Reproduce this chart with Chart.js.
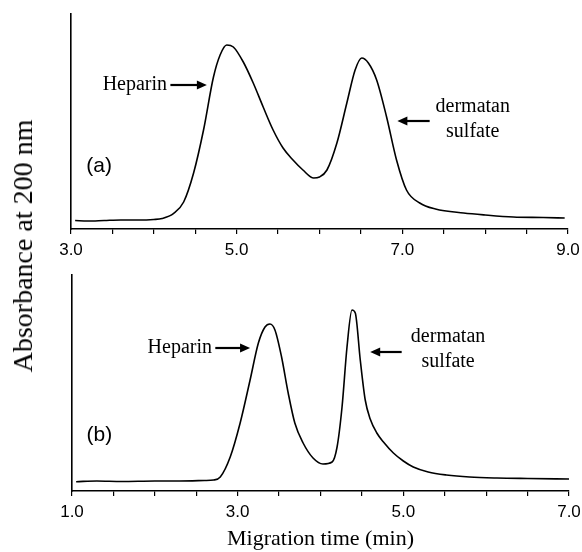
<!DOCTYPE html>
<html>
<head>
<meta charset="utf-8">
<script src="https://cdn.jsdelivr.net/npm/chart.js@4/dist/chart.umd.min.js"></script>
<style>
  html, body { margin: 0; padding: 0; background: #fff; }
  #wrap { position: relative; width: 582px; height: 552px; background: #fff; overflow: hidden; }
  #cA { position: absolute; left: 0; top: 0; }
  #cB { position: absolute; left: 0; top: 262px; }
  #ylab { position: absolute; left: 23px; top: 246px; transform: translate(-50%, -50%) rotate(-90deg);
          font-family: "Liberation Serif", "Times New Roman", serif; font-size: 28px; color: #000; white-space: nowrap; }
</style>
</head>
<body>
<div id="wrap">
  <canvas id="cA" width="582" height="262"></canvas>
  <canvas id="cB" width="582" height="290"></canvas>
  <div id="ylab">Absorbance at 200 nm</div>
</div>
<script>
// ---- Panel (a) data: migration time (min) vs absorbance (arb. units) ----
const timeA = [3.05,3.2,3.4,3.6,3.8,4.0,4.1,4.24,4.36,4.48,4.6,4.72,4.8,4.88,4.96,5.08,5.2,5.32,5.44,5.56,5.68,5.8,5.93,6.0,6.09,6.21,6.33,6.43,6.51,6.59,6.69,6.81,6.93,7.05,7.21,7.4,7.74,8.0,8.34,8.7,8.96];
const absA  = [8.5,8,8.5,9,9,9.5,10.5,15.7,27,56,99,152,174,184,182,167,146,122,99,81,69,59,51,52,59,86,126,159,171,166,149,112,69,39,26,20,16,14,12,11.5,11];
const tickLabelsA = ['3.0','5.0','7.0','9.0'];

// ---- Panel (b) data ----
const timeB = [1.05,1.3,1.6,2.0,2.3,2.6,2.71,2.79,2.91,3.03,3.15,3.25,3.33,3.39,3.45,3.53,3.61,3.69,3.79,3.91,4.03,4.14,4.2,4.26,4.32,4.38,4.42,4.48,4.54,4.6,4.68,4.76,4.88,5.0,5.12,5.3,5.52,5.8,6.13,6.5,7.01];
const absB  = [9.3,10,9.5,10,10,10.5,11,14,34,68,111,148,164,167,161,134,98,68,48,33,27,29,44,84,144,181,178,131,91,72,58,49,38,30,24,19,16,14,13,12.5,12];
const tickLabelsB = ['1.0','3.0','5.0','7.0'];

// ---- Annotation texts ----
const panelLabels = ['(a)', '(b)'];
const peakNames = ['Heparin', 'dermatan', 'sulfate'];
const xTitle = 'Migration time (min)';

function pts(xs, ys) { return xs.map((x, i) => ({ x: x, y: ys[i] })); }

function arrow(ctx, x1, x2, y) {
  const dir = x2 > x1 ? 1 : -1;
  ctx.beginPath();
  ctx.lineWidth = 2.2;
  ctx.moveTo(x1, y);
  ctx.lineTo(x2 - dir * 8, y);
  ctx.stroke();
  ctx.beginPath();
  ctx.moveTo(x2, y);
  ctx.lineTo(x2 - dir * 10, y - 4.5);
  ctx.lineTo(x2 - dir * 10, y + 4.5);
  ctx.closePath();
  ctx.fill();
}

function annotPlugin(cfg) {
  return {
    id: 'annot',
    afterDatasetsDraw(chart) {
      const ctx = chart.ctx, xs = chart.scales.x, ys = chart.scales.y;
      const X = v => xs.getPixelForValue(v), Y = v => ys.getPixelForValue(v);
      ctx.save();
      ctx.fillStyle = '#000'; ctx.strokeStyle = '#000';
      ctx.textBaseline = 'middle';
      // panel label
      ctx.font = '21px "Liberation Sans", Arial, sans-serif';
      ctx.textAlign = 'center';
      ctx.fillText(cfg.panel, X(cfg.panelPos[0]), Y(cfg.panelPos[1]));
      // Heparin
      ctx.font = '20px "Liberation Serif", "Times New Roman", serif';
      ctx.textAlign = 'right';
      ctx.fillText(peakNames[0], X(cfg.hep[0]), Y(cfg.hep[1]));
      arrow(ctx, X(cfg.hepArrow[0]), X(cfg.hepArrow[1]), Y(cfg.hepArrow[2]));
      // dermatan sulfate
      ctx.textAlign = 'center';
      ctx.fillText(peakNames[1], X(cfg.der[0]), Y(cfg.der[1]));
      ctx.fillText(peakNames[2], X(cfg.der[0]), Y(cfg.der[2]));
      arrow(ctx, X(cfg.derArrow[0]), X(cfg.derArrow[1]), Y(cfg.derArrow[2]));
      ctx.restore();
    }
  };
}

function makeChart(id, xs, ys, xmin, xmax, ymax, labels, pad, xHeight, withTitle, annot) {
  return new Chart(document.getElementById(id), {
    type: 'line',
    data: { datasets: [{ data: pts(xs, ys), borderColor: '#000', borderWidth: 1.6,
                         pointRadius: 0, fill: false, cubicInterpolationMode: 'monotone' }] },
    options: {
      responsive: false, animation: false,
      layout: { padding: pad },
      plugins: { legend: { display: false }, tooltip: { enabled: false } },
      scales: {
        x: {
          type: 'linear', min: xmin, max: xmax,
          afterFit: s => { s.height = xHeight; s.paddingLeft = 0; s.paddingRight = 0; },
          border: { display: true, color: '#000', width: 1.6 },
          grid: { display: true, drawOnChartArea: false, drawTicks: true, tickLength: 5, color: '#000', lineWidth: 1.2 },
          ticks: {
            stepSize: 0.5, autoSkip: false, maxRotation: 0, padding: 6,
            color: '#000', font: { family: '"Liberation Sans", Arial, sans-serif', size: 17 },
            callback: v => { const l = labels.find(t => Math.abs(parseFloat(t) - v) < 1e-6); return l ? l : ''; }
          },
          title: withTitle ? { display: true, text: xTitle, color: '#000', padding: { top: 0, bottom: 0 },
                               font: { family: '"Liberation Serif", "Times New Roman", serif', size: 22 } } : { display: false }
        },
        y: {
          type: 'linear', min: 0, max: ymax,
          afterFit: s => { s.width = 0; s.paddingTop = 0; s.paddingBottom = 0; },
          border: { display: true, color: '#000', width: 1.6 },
          grid: { display: false },
          ticks: { display: false }
        }
      }
    },
    plugins: [annotPlugin(annot)]
  });
}

makeChart('cA', timeA, absA, 3, 9, 215, tickLabelsA,
  { left: 71, right: 14, top: 14, bottom: 0 }, 33, false,
  { panel: panelLabels[0], panelPos: [3.34, 63],
    hep: [4.16, 144], hepArrow: [4.2, 4.64, 144],
    der: [7.85, 122, 97], derArrow: [7.33, 6.94, 108] });

makeChart('cB', timeB, absB, 1, 7, 216, tickLabelsB,
  { left: 72, right: 13, top: 13, bottom: 0 }, 61, true,
  { panel: panelLabels[1], panelPos: [1.33, 56],
    hep: [2.69, 143], hepArrow: [2.73, 3.15, 143],
    der: [5.54, 154, 129], derArrow: [4.98, 4.60, 139] });
</script>
</body>
</html>
